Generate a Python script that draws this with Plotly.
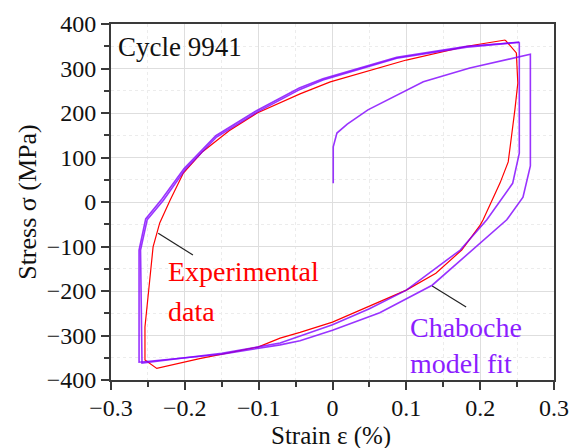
import plotly.graph_objects as go

# Experimental hysteresis loop (strain in %, stress in MPa)
exp_strain = [0.234, 0.249, 0.251, 0.247, 0.238, 0.227, 0.204, 0.200, 0.175, 0.140, 0.100,
              0.000, -0.044, -0.071, -0.101, -0.180, -0.238, -0.254, -0.254, -0.248, -0.243,
              -0.234, -0.220, -0.202, -0.176, -0.140, -0.102, -0.044, -0.003, 0.100, 0.182, 0.234]
exp_stress = [364, 335, 267, 207, 90, 43, -40, -52, -108, -160, -198,
              -270, -293, -306, -326, -352, -374, -355, -281, -180, -101,
              -47, 4, 65, 113, 160, 200, 243, 270, 319, 350, 364]

# Chaboche model: initial loading, first unloading and first reloading
fit1_strain = [0.001, 0.001, 0.006, 0.020, 0.048, 0.123, 0.186, 0.268, 0.268, 0.258, 0.236,
               0.200, 0.135, 0.064, 0.000, -0.044, -0.071, -0.150, -0.262, -0.262, -0.253,
               -0.231, -0.201, -0.158, -0.103, -0.045, -0.013, 0.087, 0.182, 0.253]
fit1_stress = [42, 124, 155, 175, 207, 270, 301, 332, 81, 11, -40,
               -92, -187, -249, -288, -312, -321, -342, -360, -108, -38,
               7, 75, 149, 205, 256, 277, 325, 350, 359]

# Chaboche model: stabilised cycle
fit2_strain = [0.253, 0.253, 0.244, 0.209, 0.173, 0.100, 0.050, 0.000, -0.071, -0.150,
               -0.258, -0.260, -0.251, -0.229, -0.200, -0.157, -0.102, -0.044, -0.013,
               0.087, 0.182, 0.253]
fit2_stress = [359, 110, 42, -40, -108, -198, -240, -276, -317, -340,
               -362, -108, -40, 4, 72, 146, 202, 253, 274,
               323, 348, 359]

RED = "rgb(255,0,0)"
PURPLE_LINE = "rgba(128,0,255,0.8)"
PURPLE_TEXT = "rgb(140,30,255)"
FONT = "'Liberation Serif', 'DejaVu Serif', serif"

fig = go.Figure()
fig.add_trace(go.Scatter(x=exp_strain, y=exp_stress, mode="lines",
                         line=dict(color=RED, width=1.2), showlegend=False))
fig.add_trace(go.Scatter(x=fit1_strain, y=fit1_stress, mode="lines",
                         line=dict(color=PURPLE_LINE, width=1.6), showlegend=False))
fig.add_trace(go.Scatter(x=fit2_strain, y=fit2_stress, mode="lines",
                         line=dict(color=PURPLE_LINE, width=1.6), showlegend=False))

axis_common = dict(
    showline=True, linecolor="#3a3a3a", linewidth=2, mirror=True,
    ticks="outside", ticklen=8, tickwidth=1.5, tickcolor="#3a3a3a",
    showgrid=True, gridcolor="#dedede", gridwidth=1,
    zeroline=False, automargin=False, ticklabeloverflow="allow",
    tickfont=dict(family=FONT, size=24, color="#111"),
)

fig.update_xaxes(
    range=[-0.3, 0.3], dtick=0.1, tick0=0, ticklabelstandoff=-3,
    minor=dict(dtick=0.05, ticks="outside", ticklen=5, tickcolor="#3a3a3a",
               showgrid=True, gridcolor="#ececec", griddash="dot"),
    **axis_common,
)
fig.update_yaxes(
    range=[-400, 400], dtick=100, tick0=0,
    minor=dict(dtick=50, ticks="outside", ticklen=5, tickcolor="#3a3a3a",
               showgrid=True, gridcolor="#ececec", griddash="dot"),
    **axis_common,
)

# Axis titles
fig.add_annotation(x=0.496, y=-0.158, xref="paper", yref="paper", text="Strain ε (%)",
                   showarrow=False, xanchor="center", yanchor="middle",
                   font=dict(family=FONT, size=25, color="#111"))
fig.add_annotation(x=-0.19, y=0.5, xref="paper", yref="paper", text="Stress σ (MPa)",
                   showarrow=False, xanchor="center", yanchor="middle", textangle=-90,
                   font=dict(family=FONT, size=26, color="#111"))

# Leader lines from labels to curves
fig.add_shape(type="line", xref="x", yref="y", x0=-0.236, y0=-70, x1=-0.189, y1=-119,
              line=dict(color="#222", width=1.2))
fig.add_shape(type="line", xref="x", yref="y", x0=0.135, y0=-189, x1=0.181, y1=-236,
              line=dict(color="#222", width=1.2))

def label(text, x, y, color, size):
    fig.add_annotation(x=x, y=y, xref="x", yref="y", text=text, showarrow=False,
                       xanchor="left", yanchor="middle",
                       font=dict(family=FONT, size=size, color=color))

label("Cycle 9941", -0.293, 348, "#111", 27)
label("Experimental", -0.226, -157, RED, 28)
label("data", -0.226, -247, RED, 28)
label("Chaboche", 0.102, -281, PURPLE_TEXT, 28)
label("model fit", 0.102, -362, PURPLE_TEXT, 28)

fig.update_layout(
    width=569, height=448,
    margin=dict(l=111, r=15, t=24, b=68),
    paper_bgcolor="white", plot_bgcolor="white",
    font=dict(family=FONT),
)

fig.write_html("out.html")
